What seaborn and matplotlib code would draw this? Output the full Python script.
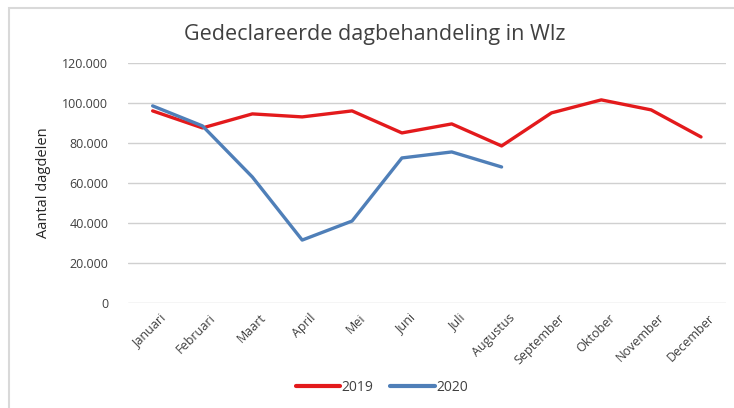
import pandas as pd
import seaborn as sns
import matplotlib.pyplot as plt
from matplotlib.ticker import FuncFormatter
from matplotlib.patches import Rectangle
from matplotlib.transforms import ScaledTranslation

# Maanden en gedeclareerde dagdelen
maanden = ["Januari", "Februari", "Maart", "April", "Mei", "Juni", "Juli",
           "Augustus", "September", "Oktober", "November", "December"]
waarden_2019 = [96000, 87500, 94500, 93000, 96000, 85000, 89500, 78500,
                95000, 101500, 96500, 83000]
waarden_2020 = [98500, 88500, 63000, 31500, 41000, 72500, 75500, 68000]

df = pd.concat([
    pd.DataFrame({"maand": maanden, "idx": range(len(maanden)),
                  "waarde": waarden_2019, "jaar": "2019"}),
    pd.DataFrame({"maand": maanden[:len(waarden_2020)], "idx": range(len(waarden_2020)),
                  "waarde": waarden_2020, "jaar": "2020"}),
])

sns.set_style("white")
plt.rcParams["font.family"] = ["Open Sans", "DejaVu Sans"]

fig = plt.figure(figsize=(7.34, 4.08), dpi=100)
ax = fig.add_axes([0.174, 0.257, 0.815, 0.589])

kleuren = {"2019": "#e31a1c", "2020": "#4f7fb8"}
sns.lineplot(data=df, x="idx", y="waarde", hue="jaar", palette=kleuren,
             linewidth=2.4, ax=ax, legend=False)

ax.set_xlim(-0.5, len(maanden) - 0.5)
ax.set_ylim(0, 120000)
ax.set_yticks(range(0, 120001, 20000))
ax.yaxis.set_major_formatter(FuncFormatter(lambda v, p: f"{int(v):,}".replace(",", ".")))
ax.set_xticks(range(len(maanden)))
ax.set_xticklabels(maanden, rotation=45, ha="right", rotation_mode="anchor")
ax.tick_params(axis="both", length=0, labelsize=9, labelcolor="#404040")
ax.tick_params(axis="y", pad=14)
ax.tick_params(axis="x", pad=6)
# labels iets naar rechts, zoals in het origineel
shift = ScaledTranslation(5 / 72, 0, fig.dpi_scale_trans)
for lbl in ax.get_xticklabels():
    lbl.set_transform(lbl.get_transform() + shift)
ax.grid(axis="y", color="#d0d0d0", linewidth=1)
for s in ax.spines.values():
    s.set_visible(False)
for l in ax.lines:
    l.set_clip_on(False)

ax.set_xlabel("")
ax.set_ylabel("Aantal dagdelen", fontsize=10.5, color="#262626", labelpad=8)

fig.suptitle("Gedeclareerde dagbehandeling in Wlz", x=0.51, y=0.94,
             fontsize=15.5, color="#404040")

# Legenda onderaan
handles = [plt.Line2D([], [], color=kleuren[j], linewidth=3) for j in ["2019", "2020"]]
fig.legend(handles, ["2019", "2020"], loc="center", bbox_to_anchor=(0.52, 0.05),
           ncol=2, frameon=False, fontsize=10, handlelength=3.2,
           handletextpad=0.1, columnspacing=1.2, labelcolor="#404040")

# Kader rond figuur
fig.patches.append(Rectangle((0.012, -0.01), 0.99, 0.99, transform=fig.transFigure,
                             fill=False, edgecolor="#d9d9d9", linewidth=1.5))

fig.savefig("out.png", dpi=100)
